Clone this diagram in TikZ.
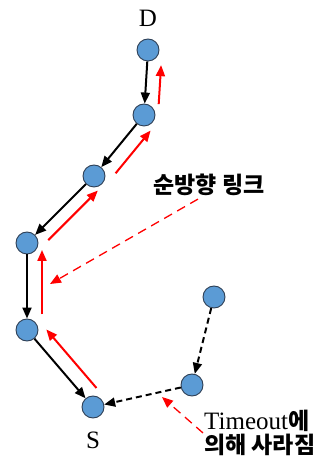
\documentclass[tikz,border=0pt]{standalone}
\usepackage{fontspec}
\setmainfont{Liberation Serif}
\newfontfamily\kr{Noto Sans CJK KR}
\usetikzlibrary{calc,arrows.meta}
\definecolor{hopblue}{HTML}{5B9BD5}
\definecolor{hopedge}{HTML}{2E3F55}

\begin{document}
\begin{tikzpicture}[
    x=1pt, y=1pt,
    hop/.style={
        circle,
        draw=hopedge,
        fill=hopblue,
        line width=0.9pt,
        minimum size=22pt,
        inner sep=0pt
    },
    rev/.style={-{Triangle[length=11pt,width=9pt]}, line width=2pt},
    fwd/.style={-{Triangle[length=11pt,width=9pt]}, line width=2pt, red},
    lost/.style={rev, dash pattern=on 6pt off 4pt},
    note/.style={-{Triangle[length=11pt,width=9pt]}, red, line width=1.3pt, dash pattern=on 9pt off 6pt},
    label/.style={font=\fontsize{25}{25}\selectfont, inner sep=1pt},
    krlabel/.style={font=\fontsize{23}{23}\selectfont\kr\bfseries, inner sep=1pt}
]
\useasboundingbox (0,0) rectangle (322,463);

\node[hop] (d) at (148,413) {};
\node[hop] (n2) at (144,348) {};
\node[hop] (n3) at (94,287) {};
\node[hop] (n4) at (27,220) {};
\node[hop] (n5) at (27,133) {};
\node[hop] (s) at (93,56) {};
\node[hop] (n7) at (192,78) {};
\node[hop] (n8) at (214,166) {};

\node[label] (dlbl) at (148,445) {D};
\node[label] (slbl) at (93,23) {S};
\node[krlabel] (fwdlbl) at (209,278) {순방향 링크};
\node[label, anchor=west] (lostlbl) at (203,42)
    {Timeout{\fontsize{23}{23}\selectfont\kr\bfseries 에}};
\node[krlabel, anchor=west] (lostlbl2) at (203,18) {의해 사라짐};

% reverse path
\draw[rev] (d) -- (n2);
\draw[rev] (n2) -- (n3);
\draw[rev] (n3) -- (n4);
\draw[rev] (n4) -- (n5);
\draw[rev] (n5) -- (s);

% forward path
\draw[fwd] ($(s)!0.12!(n5)!15pt!-90:(n5)$) -- ($(s)!0.88!(n5)!15pt!-90:(n5)$);
\draw[fwd] ($(n5)!0.18!(n4)!15pt!-90:(n4)$) -- ($(n5)!0.92!(n4)!15pt!-90:(n4)$);
\draw[fwd] ($(n4)!0.18!(n3)!13pt!-90:(n3)$) -- ($(n4)!0.92!(n3)!13pt!-90:(n3)$);
\draw[fwd] ($(n3)!0.2!(n2)!15pt!-90:(n2)$) -- ($(n3)!0.9!(n2)!15pt!-90:(n2)$);
\draw[fwd] ($(n2)!0.18!(d)!14pt!-90:(d)$) -- ($(n2)!0.78!(d)!14pt!-90:(d)$);

% expired route
\draw[lost] (n8) -- (n7);
\draw[lost] (n7) -- (s);

\coordinate (fwdtip) at (50,179);
\coordinate (losttip) at (162,66);
\draw[note] ([xshift=-11pt,yshift=-2pt]fwdlbl.south) -- (fwdtip);
\draw[note] (lostlbl2.north west) -- (losttip);

\end{tikzpicture}
\end{document}
